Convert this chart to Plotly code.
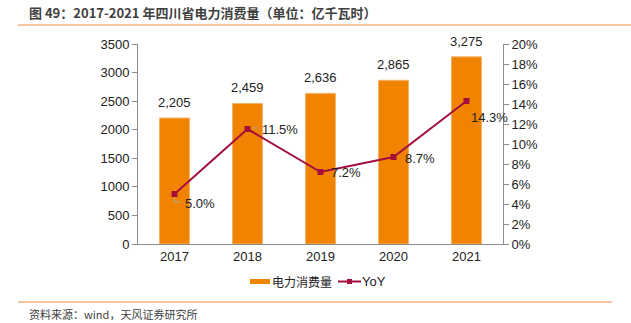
import plotly.graph_objects as go

years = ["2017", "2018", "2019", "2020", "2021"]
consumption = [2205, 2459, 2636, 2865, 3275]
consumption_labels = ["2,205", "2,459", "2,636", "2,865", "3,275"]
yoy = [5.0, 11.5, 7.2, 8.7, 14.3]
yoy_labels = ["5.0%", "11.5%", "7.2%", "8.7%", "14.3%"]
left_ticks = [0, 500, 1000, 1500, 2000, 2500, 3000, 3500]
right_ticks = [0, 2, 4, 6, 8, 10, 12, 14, 16, 18, 20]

xpos = list(range(len(years)))

BAR = "#F08300"
LINE = "#A50F3C"
GRAY = "#A6A6A6"
FONT = "Liberation Sans, Arial, Noto Sans CJK SC, sans-serif"
CJK = "Noto Sans CJK SC, sans-serif"
TXT = "#222222"

L, R, T, B = 138, 128, 44, 79
PW, PH = 631 - L - R, 323 - T - B


def px(xp):
    return (xp - L) / PW


def py(yp):
    return (323 - B - yp) / PH


fig = go.Figure()
fig.add_trace(go.Bar(
    x=xpos, y=consumption, name="电力消费量",
    marker=dict(color=BAR, line=dict(color="#F7B26A", width=1)),
    width=0.41, showlegend=False,
))
fig.add_trace(go.Scatter(
    x=xpos, y=yoy, name="YoY", yaxis="y2",
    mode="lines+markers",
    line=dict(color=LINE, width=2),
    marker=dict(symbol="square", size=6, color=LINE),
    showlegend=False,
))

# bar value labels
for xp, v, lab in zip(xpos, consumption, consumption_labels):
    fig.add_annotation(x=xp, y=v, text=lab, showarrow=False,
                       xanchor="center", yanchor="bottom", yshift=6,
                       font=dict(size=13, color=TXT, family=FONT))

# YoY labels: (xshift, yshift) in pixels
offsets = [(8, -9), (12, 0), (8, 0), (9, -1), (2, -16)]
for xp, v, lab, (dx, dy) in zip(xpos, yoy, yoy_labels, offsets):
    fig.add_annotation(x=xp, y=v, yref="y2", text=lab, showarrow=False,
                       xanchor="left", yanchor="middle", xshift=dx, yshift=dy,
                       font=dict(size=13, color=TXT, family=FONT))

# small gray leader lines
fig.add_shape(type="path", xref="x", yref="y2",
              path="M 0,4.6 L 0,4.2 L 0.08,4.2",
              line=dict(color=GRAY, width=1))
fig.add_shape(type="line", xref="x", yref="y2",
              x0=1.07, x1=1.15, y0=11.6, y1=11.6,
              line=dict(color=GRAY, width=1))

fig.update_layout(
    width=631, height=323,
    margin=dict(l=L, r=R, t=T, b=B),
    paper_bgcolor="white", plot_bgcolor="white",
    font=dict(family=FONT, size=13, color=TXT),
    showlegend=False,
    xaxis=dict(range=[-0.5, 4.5], tickvals=xpos, ticktext=years,
               showline=True, linecolor="#8C8C8C", linewidth=1, ticks="",
               tickfont=dict(size=13, color=TXT), showgrid=False, zeroline=False),
    yaxis=dict(range=[0, 3500], tickvals=left_ticks, showline=True, linecolor="#8C8C8C",
               ticks="outside", ticklen=5, tickcolor="#8C8C8C", showgrid=False,
               tickfont=dict(size=13, color=TXT), zeroline=False),
    yaxis2=dict(range=[0, 20], tickvals=right_ticks, ticktext=[f"{t}%" for t in right_ticks],
                overlaying="y", side="right", showline=True, linecolor="#8C8C8C",
                ticks="outside", ticklen=5, tickcolor="#8C8C8C", showgrid=False,
                tickfont=dict(size=13, color=TXT), zeroline=False),
)

# custom legend
fig.add_shape(type="rect", xref="paper", yref="paper",
              x0=px(250), x1=px(270), y0=py(284), y1=py(279),
              fillcolor=BAR, line=dict(width=0))
fig.add_annotation(xref="paper", yref="paper", x=px(270), y=py(281.5),
                   text="电力消费量", showarrow=False, xanchor="left", yanchor="middle",
                   font=dict(size=12, color=TXT, family=CJK))
fig.add_shape(type="line", xref="paper", yref="paper",
              x0=px(338), x1=px(361), y0=py(281.5), y1=py(281.5),
              line=dict(color=LINE, width=2))
fig.add_shape(type="rect", xref="paper", yref="paper",
              x0=px(347), x1=px(352), y0=py(284), y1=py(279),
              fillcolor=LINE, line=dict(width=0))
fig.add_annotation(xref="paper", yref="paper", x=px(360), y=py(281.5),
                   text="YoY", showarrow=False, xanchor="left", yanchor="middle",
                   font=dict(size=13, color=TXT, family=FONT))

# title, separator lines, source
fig.add_annotation(xref="paper", yref="paper", x=px(27), y=py(13),
                   text="<b>图 49：2017-2021 年四川省电力消费量（单位：亿千瓦时）</b>",
                   showarrow=False, xanchor="left", yanchor="middle",
                   font=dict(size=13, color="#404040", family=CJK))
fig.add_shape(type="line", xref="paper", yref="paper",
              x0=px(18), x1=px(631), y0=py(25), y1=py(25),
              line=dict(color="#F4B183", width=1.5))
fig.add_shape(type="line", xref="paper", yref="paper",
              x0=px(18), x1=px(612), y0=py(302), y1=py(302),
              line=dict(color="#F4B183", width=1.5))
fig.add_annotation(xref="paper", yref="paper", x=px(27), y=py(314),
                   text="资料来源：wind，天风证券研究所", showarrow=False,
                   xanchor="left", yanchor="middle",
                   font=dict(size=11, color="#404040", family=CJK))

fig.write_html("out.html")
